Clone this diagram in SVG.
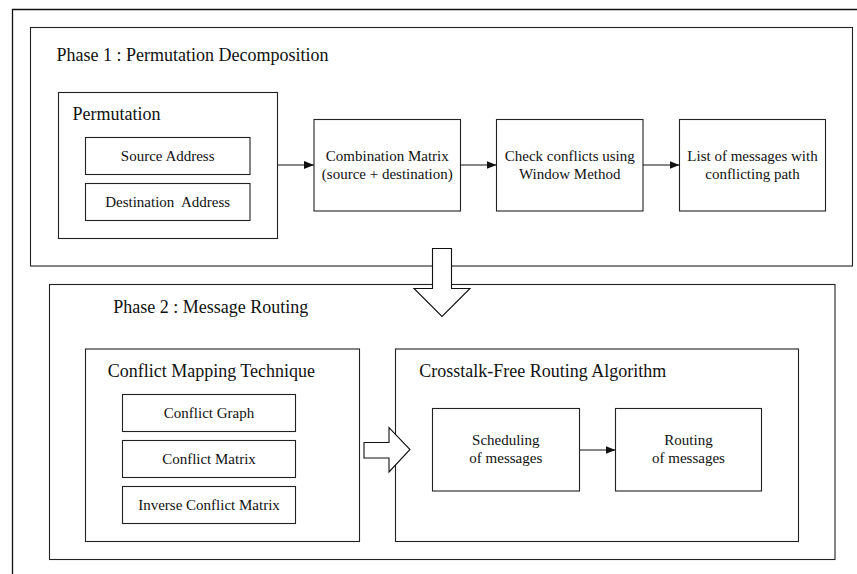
<svg xmlns="http://www.w3.org/2000/svg" width="857" height="574" viewBox="0 0 857 574">
<style>
.box{fill:#fff;stroke:#222;stroke-width:1.1}
.frame{fill:none;stroke:#111;stroke-width:1.3}
.t{font-family:"Liberation Serif","Times New Roman",serif;fill:#111}
.title{font-size:18px}
.lbl{font-size:15px;text-anchor:middle}
.con{stroke:#111;stroke-width:1.1;fill:none}
.blk{fill:#fff;stroke:#111;stroke-width:1.1}
</style>
<defs>
<marker id="ah" viewBox="0 0 10 8" refX="10" refY="4" markerWidth="10" markerHeight="8" markerUnits="userSpaceOnUse" orient="auto">
<path d="M0,0 L10,4 L0,8 Z" fill="#111"/>
</marker>
</defs>
<rect width="857" height="574" fill="#fff"/>
<path class="frame" d="M12.5,574 V9.5 H857"/>

<g id="phase1">
<rect class="box" x="30.5" y="27.5" width="822" height="238.5"/>
<text class="t title" x="56.5" y="61">Phase 1 : Permutation Decomposition</text>
</g>
<g id="permutation">
<rect class="box" x="58.5" y="92.5" width="219" height="146"/>
<text class="t title" x="72.5" y="120">Permutation</text>
</g>
<g id="source">
<rect class="box" x="85.5" y="137.5" width="164.5" height="37"/>
<text class="t lbl" x="167.7" y="161">Source Address</text>
</g>
<g id="destination">
<rect class="box" x="85.5" y="183.5" width="164.5" height="37"/>
<text class="t lbl" x="167.7" y="206.5" xml:space="preserve">Destination  Address</text>
</g>
<g id="combination">
<rect class="box" x="314" y="119.5" width="146.5" height="91.5"/>
<text class="t lbl" x="387.3" y="161">Combination Matrix</text>
<text class="t lbl" x="387.3" y="179.3">(source + destination)</text>
</g>
<g id="check">
<rect class="box" x="496.5" y="119.5" width="146.5" height="91.5"/>
<text class="t lbl" x="569.8" y="161">Check conflicts using</text>
<text class="t lbl" x="569.8" y="179.3">Window Method</text>
</g>
<g id="list">
<rect class="box" x="679.5" y="119.5" width="146" height="91.5"/>
<text class="t lbl" x="752.5" y="161">List of messages with</text>
<text class="t lbl" x="752.5" y="179.3">conflicting path</text>
</g>

<g id="phase2">
<rect class="box" x="49.5" y="284.5" width="785.5" height="275"/>
<text class="t title" x="113.3" y="313.3">Phase 2 : Message Routing</text>
</g>
<g id="mapping">
<rect class="box" x="85.5" y="349" width="274" height="192.5"/>
<text class="t title" x="107.7" y="377.3">Conflict Mapping Technique</text>
</g>
<g id="graph">
<rect class="box" x="122.5" y="394.5" width="173" height="37"/>
<text class="t lbl" x="209" y="418.3">Conflict Graph</text>
</g>
<g id="matrix">
<rect class="box" x="122.5" y="440.5" width="173" height="37"/>
<text class="t lbl" x="209" y="464.3">Conflict Matrix</text>
</g>
<g id="inverse">
<rect class="box" x="122.5" y="486.5" width="173" height="37"/>
<text class="t lbl" x="209" y="510">Inverse Conflict Matrix</text>
</g>
<g id="crosstalk">
<rect class="box" x="395.5" y="349" width="403" height="192.5"/>
<text class="t title" x="419.3" y="376.7">Crosstalk-Free Routing Algorithm</text>
</g>
<g id="scheduling">
<rect class="box" x="432.5" y="408.5" width="147" height="82.5"/>
<text class="t lbl" x="505.8" y="445">Scheduling</text>
<text class="t lbl" x="505.8" y="463.3">of messages</text>
</g>
<g id="routing">
<rect class="box" x="615.5" y="408.5" width="146" height="82.5"/>
<text class="t lbl" x="688.5" y="445">Routing</text>
<text class="t lbl" x="688.5" y="463.3">of messages</text>
</g>

<g id="connectors">
<line class="con" x1="277.5" y1="165" x2="314" y2="165" marker-end="url(#ah)"/>
<line class="con" x1="460.5" y1="165" x2="496.5" y2="165" marker-end="url(#ah)"/>
<line class="con" x1="643" y1="165" x2="679.5" y2="165" marker-end="url(#ah)"/>
<line class="con" x1="579.5" y1="450" x2="615.5" y2="450" marker-end="url(#ah)"/>
<path class="blk" d="M432.5,248.5 H451.5 V288.5 H470 L442,316.5 L414,288.5 H432.5 Z"/>
<path class="blk" d="M364,442.5 H389 V427.5 L410,449.5 L389,472 V458 H364 Z"/>
</g>
</svg>
